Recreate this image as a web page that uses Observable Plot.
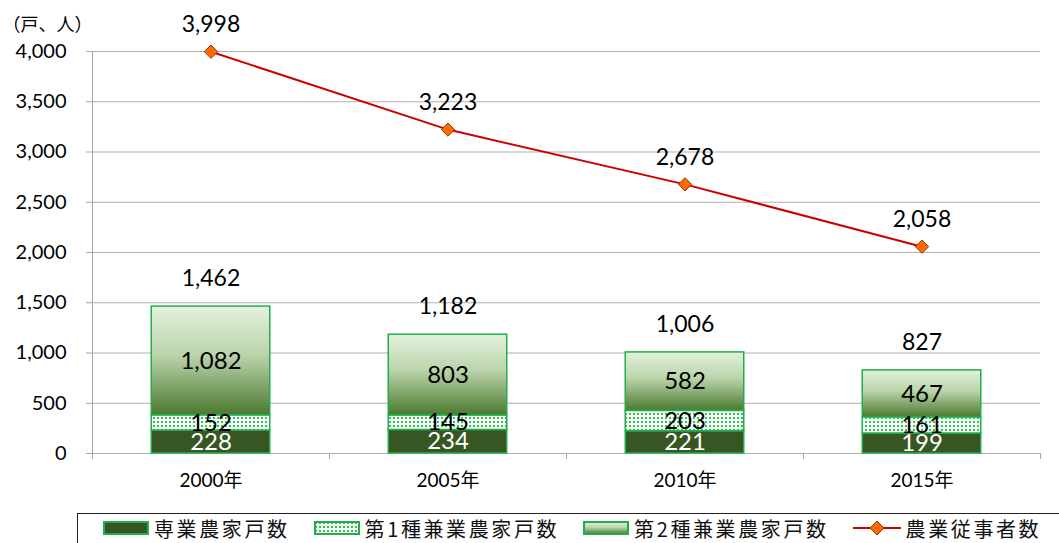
<!DOCTYPE html>
<html>
<head>
<meta charset="utf-8">
<script src="https://cdn.jsdelivr.net/npm/d3@7"></script>
<script src="https://cdn.jsdelivr.net/npm/@observablehq/plot@0.6"></script>
<style>
  html, body { margin: 0; padding: 0; background: #fff; }
  #wrap { position: relative; width: 1059px; height: 543px; overflow: hidden; font-family: Lato, "Noto Sans CJK JP", sans-serif; }
  #legend { position: absolute; left: 77px; top: 513px; width: 1010px; height: 40px; border: 1.5px solid #222; box-sizing: border-box; }
  #legend .row { display: flex; align-items: center; height: 28px; padding-left: 25px; gap: 24px; }
  #legend .item { display: flex; align-items: center; gap: 5px; font-family: "Noto Sans CJK JP", sans-serif; font-size: 20px; letter-spacing: 2.6px; color: #111; }
  #legend svg { display: block; }
</style>
</head>
<body>
<div id="wrap"><div id="chart"></div><div id="legend"><div class="row"></div></div></div>
<script>
const years = ["2000年", "2005年", "2010年", "2015年"];
const sengyo = [228, 234, 221, 199];      // 専業農家戸数
const daiichi = [152, 145, 203, 161];     // 第1種兼業農家戸数
const daini = [1082, 803, 582, 467];      // 第2種兼業農家戸数
const totals = [1462, 1182, 1006, 827];   // 総農家数
const workers = [3998, 3223, 2678, 2058]; // 農業従事者数
const yTicks = [0, 500, 1000, 1500, 2000, 2500, 3000, 3500, 4000];
const seriesNames = ["専業農家戸数", "第1種兼業農家戸数", "第2種兼業農家戸数", "農業従事者数"];

const fmt = d3.format(",");
const green = "#1fae4b";
const darkFill = "#375623";

// stacked segments
const segments = [];
years.forEach((yr, i) => {
  let base = 0;
  [[sengyo, 0], [daiichi, 1], [daini, 2]].forEach(([arr, s]) => {
    segments.push({ i, s, v: arr[i], y1: base, y2: base + arr[i] });
    base += arr[i];
  });
});

const defs = () => {
  const g = d3.create("svg:defs");
  const pat = g.append("pattern").attr("id", "dotpat").attr("patternUnits", "userSpaceOnUse")
    .attr("width", 4).attr("height", 4);
  pat.append("rect").attr("width", 4).attr("height", 4).attr("fill", "#f4fbf5");
  pat.append("rect").attr("x", 1).attr("y", 1).attr("width", 2).attr("height", 2).attr("fill", "#3fba5c");
  const grad = g.append("linearGradient").attr("id", "grad2").attr("x1", 0).attr("y1", 0).attr("x2", 0).attr("y2", 1);
  grad.append("stop").attr("offset", 0).attr("stop-color", "#e4f1dd");
  grad.append("stop").attr("offset", 0.45).attr("stop-color", "#bad4ab");
  grad.append("stop").attr("offset", 1).attr("stop-color", "#4b7a2f");
  return g.node();
};

const fills = [darkFill, "url(#dotpat)", "url(#grad2)"];

const chart = Plot.plot({
  width: 1059,
  height: 510,
  marginLeft: 92,
  marginRight: 19,
  marginTop: 51,
  marginBottom: 57,
  x: { domain: [0, years.length], axis: null },
  y: { domain: [0, 4000], axis: null },
  style: { fontFamily: "Lato, 'Noto Sans CJK JP', sans-serif", background: "white", overflow: "visible", color: "#000" },
  marks: [
    defs,
    Plot.gridY(yTicks, { stroke: "#b0b0b0", strokeOpacity: 1 }),
    Plot.axisY(yTicks, { tickSize: 6, tickPadding: 20, tickFormat: fmt, fontSize: 20, stroke: "#a6a6a6", fill: "#000" }),
    Plot.ruleX([0], { stroke: "#a6a6a6" }),
    Plot.axisX(d3.range(years.length + 1), { tickSize: 6, tickFormat: () => "", stroke: "#a6a6a6" }),
    Plot.axisX(years.map((d, i) => i + 0.5), { tickSize: 0, tickPadding: 20, tickFormat: d => years[Math.floor(d)], fontSize: 19, fill: "#000" }),
    ...[0, 1, 2].map(s => Plot.rect(segments.filter(d => d.s === s), {
      x1: d => d.i + 0.25, x2: d => d.i + 0.75, y1: "y1", y2: "y2",
      fill: fills[s], stroke: green, strokeWidth: 1.5
    })),
    Plot.text(segments, {
      x: d => d.i + 0.5, y: d => (d.y1 + d.y2) / 2, text: d => fmt(d.v),
      fill: d => d.s === 0 ? "#ffffff" : "#000000", fontSize: 24
    }),
    Plot.text(totals, { x: (d, i) => i + 0.5, y: d => d, dy: -28, text: d => fmt(d), fontSize: 23, fill: "#000" }),
    Plot.line(workers, { x: (d, i) => i + 0.5, y: d => d, stroke: "#cc0000", strokeWidth: 2 }),
    Plot.dot(workers, { x: (d, i) => i + 0.5, y: d => d, symbol: "diamond2", r: 6, fill: "#ff6a00", stroke: "#8a3b0c", strokeWidth: 1 }),
    Plot.text(workers, { x: (d, i) => i + 0.5, y: d => d, dy: -27, text: d => fmt(d), fontSize: 23, fill: "#000" }),
    Plot.text(["（戸、人）"], { frameAnchor: "top-left", dx: -90, dy: -33, textAnchor: "start", fontSize: 18, fill: "#000", fontFamily: "'Noto Sans CJK JP', sans-serif" })
  ]
});
document.getElementById("chart").appendChild(chart);

// legend
const row = document.querySelector("#legend .row");
const swatchSvgs = [
  `<svg width="46" height="14"><rect x="1" y="1" width="44" height="12" fill="${darkFill}" stroke="${green}" stroke-width="2"/></svg>`,
  `<svg width="46" height="14"><rect x="1" y="1" width="44" height="12" fill="url(#dotpat)" stroke="${green}" stroke-width="2"/></svg>`,
  `<svg width="46" height="14"><rect x="1" y="1" width="44" height="12" fill="url(#grad2)" stroke="${green}" stroke-width="2"/></svg>`,
  `<svg width="48" height="16"><line x1="0" y1="8" x2="48" y2="8" stroke="#cc0000" stroke-width="2"/><path d="M24,1 L31,8 L24,15 L17,8 Z" fill="#ff6a00" stroke="#8a3b0c" stroke-width="1"/></svg>`
];
seriesNames.forEach((name, k) => {
  const it = document.createElement("div");
  it.className = "item";
  it.innerHTML = swatchSvgs[k] + `<span>${name}</span>`;
  row.appendChild(it);
});
</script>
</body>
</html>
